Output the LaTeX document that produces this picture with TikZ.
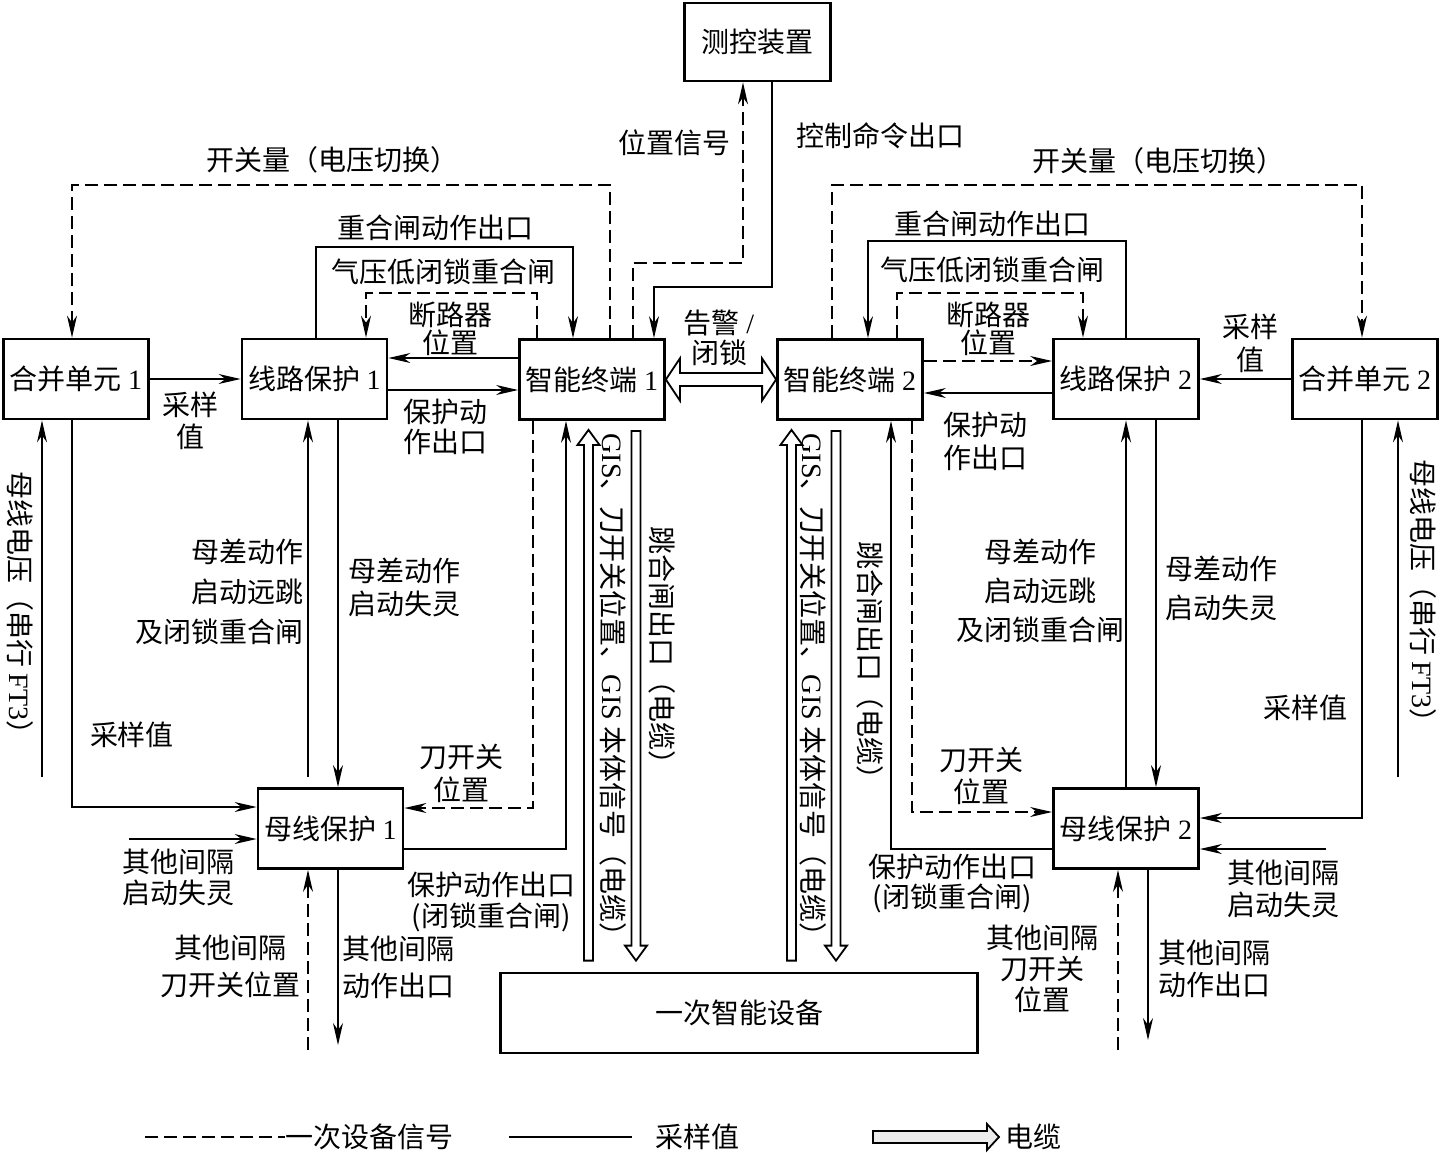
\documentclass[tikz,border=0pt]{standalone}
\usepackage{fontspec}
\newfontfamily\cjk{Noto Sans CJK SC}
\newfontfamily\lat{Liberation Serif}
\usetikzlibrary{arrows.meta,calc}
\begin{document}
\begin{tikzpicture}[x=0.5pt,y=-0.5pt,
 box/.style={draw,line width=1.4pt,minimum width=72.5pt,minimum height=40pt,inner sep=0,font=\cjk\fontsize{14}{16}\selectfont},
 lab/.style={inner sep=0,align=center,font=\cjk\fontsize{14}{16}\selectfont},
 ln/.style={line width=0.6pt},
 lnb/.style={line width=1pt},
 dsh/.style={line width=0.7pt,dash pattern=on 6.5pt off 3pt},
 arr/.style={-{Stealth[length=11pt,width=5pt,inset=3.5pt]}},
 hol/.style={draw,line width=0.9pt,fill=white,line join=miter},
]
\path[use as bounding box] (0,0) rectangle (1441,1152);

% ---------- boxes ----------
\node[box,minimum width=73pt,minimum height=39pt] (ck) at (757.5,42) {测控装置};
\node[box] (hb1) at (76,379) {合并单元 {\lat 1}};
\node[box] (xl1) at (314.5,379) {线路保护 {\lat 1}};
\node[box] (zd1) at (592,379.5) {智能终端 {\lat 1}};
\node[box] (zd2) at (850,379.5) {智能终端 {\lat 2}};
\node[box] (xl2) at (1126,379) {线路保护 {\lat 2}};
\node[box] (hb2) at (1365,379) {合并单元 {\lat 2}};
\node[box] (mx1) at (330.5,828.5) {母线保护 {\lat 1}};
\node[box] (mx2) at (1126,828.5) {母线保护 {\lat 2}};
\node[box,minimum width=238.5pt] (yc) at (739,1013) {一次智能设备};

% ---------- top left ----------
\draw[dsh,arr] (610,0 |- zd1.north) |- (72,185) -- (72,0 |- hb1.north);
\node[lab] at (332,160) {开关量（电压切换）};
\draw[ln,arr] (316,0 |- xl1.north) |- (573,247) -- (573,0 |- zd1.north);
\node[lab] at (435,228) {重合闸动作出口};
\draw[dsh,arr] (537,0 |- zd1.north) |- (366,293) -- (366,0 |- xl1.north);
\node[lab] at (443,272) {气压低闭锁重合闸};
\draw[ln,arr] (zd1.west |- 0,358) -- (xl1.east |- 0,358);
\node[lab] at (450,329) {断路器\\[-2pt]位置};
\draw[ln,arr] (xl1.east |- 0,390) -- (zd1.west |- 0,390);
\node[lab,anchor=west,align=left] at (403,427) {保护动\\[-1pt]作出口};
\draw[ln,arr] (hb1.east |- 0,379) -- (xl1.west |- 0,379);
\node[lab] at (190,421) {采样\\值};

% ---------- centre top ----------
\draw[dsh,arr] (633,0 |- zd1.north) |- (743,263) -- (743,0 |- ck.south);
\node[lab] at (674,143) {位置信号};
\draw[ln,arr] (772,0 |- ck.south) |- (654,287) -- (654,0 |- zd1.north);
\node[lab] at (880,136) {控制命令出口};
\draw[hol] (zd1.east) -- ++(14,-21) -- ++(0,14.5) -- ($(zd2.west)+(-14,-6.5)$) -- ++(0,-14.5) -- (zd2.west) -- ++(-14,21) -- ++(0,-14.5) -- ($(zd1.east)+(14,6.5)$) -- ++(0,14.5) -- cycle;
\node[lab] at (719,337.5) {告警 {\lat /}\\[-1pt]闭锁};

% ---------- top right ----------
\draw[dsh,arr] (832,0 |- zd2.north) |- (1362,185) -- (1362,0 |- hb2.north);
\node[lab] at (1158,161) {开关量（电压切换）};
\draw[ln,arr] (1126,0 |- xl2.north) |- (868,241) -- (868,0 |- zd2.north);
\node[lab] at (992,224) {重合闸动作出口};
\draw[dsh,arr] (897,0 |- zd2.north) |- (1083,293) -- (1083,0 |- xl2.north);
\node[lab] at (992,270) {气压低闭锁重合闸};
\draw[dsh,arr] (zd2.east |- 0,361) -- (xl2.west |- 0,361);
\node[lab] at (988,329) {断路器\\[-2pt]位置};
\draw[ln,arr] (xl2.west |- 0,393) -- (zd2.east |- 0,393);
\node[lab] at (985,441.5) {保护动\\[0.5pt]作出口};
\draw[ln,arr] (hb2.west |- 0,379) -- (xl2.east |- 0,379);
\node[lab] at (1250,343) {采样\\[0.5pt]值};

% ---------- left verticals ----------
\coordinate (bvl) at (42,777);
\draw[ln,arr] (bvl) -- (bvl |- hb1.south);
\node[lab,rotate=-90] at (20,610) {母线电压（串行 {\lat FT3}）};
\draw[ln,arr] (72,0 |- hb1.south) |- (mx1.west |- 0,807);
\node[lab] at (132,735) {采样值};
\draw[lnb,arr,shorten <=5pt] (308,0 |- mx1.north) -- (308,0 |- xl1.south);
\node[lab,anchor=east,align=right] at (304,592) {母差动作\\[4pt]启动远跳\\[4pt]及闭锁重合闸};
\draw[lnb,arr] (338,0 |- xl1.south) -- (338,0 |- mx1.north);
\node[lab,anchor=west,align=left] at (348,587) {母差动作\\[0.5pt]启动失灵};
\draw[dsh,arr] (533,0 |- zd1.south) |- (mx1.east |- 0,808);
\node[lab] at (461,773.5) {刀开关\\[0.5pt]位置};
\draw[ln,arr] (mx1.east |- 0,849) -| (566,0 |- zd1.south);
\node[lab] at (491,901.5) {保护动作出口\\[-0.5pt](闭锁重合闸)};

% ---------- hollow cable arrows ----------
\coordinate (x1) at (588.5,0);
\coordinate (x2) at (636,0);
\coordinate (x3) at (791.5,0);
\coordinate (x4) at (836,0);
\coordinate (g1t) at ($(x1 |- zd1.south)+(0,9)$);
\coordinate (g1b) at ($(x1 |- yc.north)+(0,-11)$);
\coordinate (g2t) at ($(x2 |- zd1.south)+(0,10)$);
\coordinate (g2b) at ($(x2 |- yc.north)+(0,-11)$);
\coordinate (g3t) at ($(x3 |- zd2.south)+(0,9)$);
\coordinate (g3b) at ($(x3 |- yc.north)+(0,-11)$);
\coordinate (g4t) at ($(x4 |- zd2.south)+(0,10)$);
\coordinate (g4b) at ($(x4 |- yc.north)+(0,-11)$);
\draw[hol] (g1t) -- ++(11,15) -- ++(-6.5,0) -- ($(g1b)+(4.5,0)$) -- ++(-9,0) -- ($(g1t)+(-4.5,15)$) -- ++(-6.5,0) -- cycle;
\draw[hol] ($(g2t)+(-4.5,0)$) -- ++(9,0) -- ($(g2b)+(4.5,-15)$) -- ++(6.5,0) -- (g2b) -- ++(-11,-15) -- ++(6.5,0) -- cycle;
\draw[hol] (g3t) -- ++(11,15) -- ++(-6.5,0) -- ($(g3b)+(4.5,0)$) -- ++(-9,0) -- ($(g3t)+(-4.5,15)$) -- ++(-6.5,0) -- cycle;
\draw[hol] ($(g4t)+(-4.5,0)$) -- ++(9,0) -- ($(g4b)+(4.5,-15)$) -- ++(6.5,0) -- (g4b) -- ++(-11,-15) -- ++(6.5,0) -- cycle;
\node[lab,rotate=-90] at (613,692) {{\lat GIS}、刀开关位置、{\lat GIS} 本体信号（电缆）};
\node[lab,rotate=-90] at (662,652) {跳合闸出口（电缆）};
\node[lab,rotate=-90] at (813,692) {{\lat GIS}、刀开关位置、{\lat GIS} 本体信号（电缆）};
\node[lab,rotate=-90] at (870,667) {跳合闸出口（电缆）};

% ---------- right verticals ----------
\draw[ln,arr] (mx2.west |- 0,849) -| (891,0 |- zd2.south);
\node[lab] at (952,883) {保护动作出口\\[-1pt](闭锁重合闸)};
\draw[dsh,arr] (912,0 |- zd2.south) |- (mx2.west |- 0,812);
\node[lab] at (981,776) {刀开关\\位置};
\draw[lnb,arr] (1126,0 |- mx2.north) -- (1126,0 |- xl2.south);
\node[lab] at (1040,591) {母差动作\\[3.5pt]启动远跳\\[3.5pt]及闭锁重合闸};
\draw[lnb,arr] (1156,0 |- xl2.south) -- (1156,0 |- mx2.north);
\node[lab,anchor=west,align=left] at (1165,588) {母差动作\\[3.5pt]启动失灵};
\draw[ln,arr] (1362,0 |- hb2.south) |- (mx2.east |- 0,818);
\node[lab] at (1305,708) {采样值};
\coordinate (bvr) at (1398,777);
\draw[ln,arr] (bvr) -- (bvr |- hb2.south);
\node[lab,rotate=-90] at (1423,598) {母线电压（串行 {\lat FT3}）};

% ---------- bottom of bus protection 1 ----------
\coordinate (q1) at (129,839);
\draw[ln,arr] (q1) -- (mx1.west |- q1);
\node[lab] at (178,877) {其他间隔\\[-0.5pt]启动失灵};
\coordinate (q2) at (308,1050);
\draw[dsh,arr] (q2) -- (q2 |- mx1.south);
\node[lab] at (230,966.5) {其他间隔\\[2.5pt]刀开关位置};
\coordinate (q3) at (338,1045);
\draw[ln,arr] (q3 |- mx1.south) -- (q3);
\node[lab,anchor=west,align=left] at (342,967) {其他间隔\\[2.5pt]动作出口};

% ---------- bottom of bus protection 2 ----------
\coordinate (q4) at (1326,849);
\draw[ln,arr] (q4) -- (mx2.east |- q4);
\node[lab] at (1283,889) {其他间隔\\启动失灵};
\coordinate (q5) at (1118,1050);
\draw[dsh,arr] (q5) -- (q5 |- mx2.south);
\node[lab] at (1042,968.5) {其他间隔\\[-0.5pt]刀开关\\[-0.5pt]位置};
\coordinate (q6) at (1148,1040);
\draw[ln,arr] (q6 |- mx2.south) -- (q6);
\node[lab,anchor=west,align=left] at (1158,969) {其他间隔\\动作出口};

% ---------- legend ----------
\coordinate (lg1) at (145,1137);
\coordinate (lg1e) at (285,1137);
\draw[dsh] (lg1) -- (lg1e);
\node[lab,anchor=west] at (lg1e) {一次设备信号};
\coordinate (lg2) at (509,1137);
\coordinate (lg2e) at (632,1137);
\draw[ln] (lg2) -- (lg2e);
\node[lab,anchor=west] at (655,1137) {采样值};
\coordinate (lg3) at (873,1137);
\coordinate (lg3e) at (999,1137);
\draw[hol,fill=gray!15] ($(lg3)+(0,-6)$) -- ($(lg3e)+(-12,-6)$) -- ++(0,-7) -- (lg3e) -- ++(-12,13) -- ++(0,-7) -- ($(lg3)+(0,6)$) -- cycle;
\node[lab,anchor=west] at (1005,1137) {电缆};
\end{tikzpicture}
\end{document}
